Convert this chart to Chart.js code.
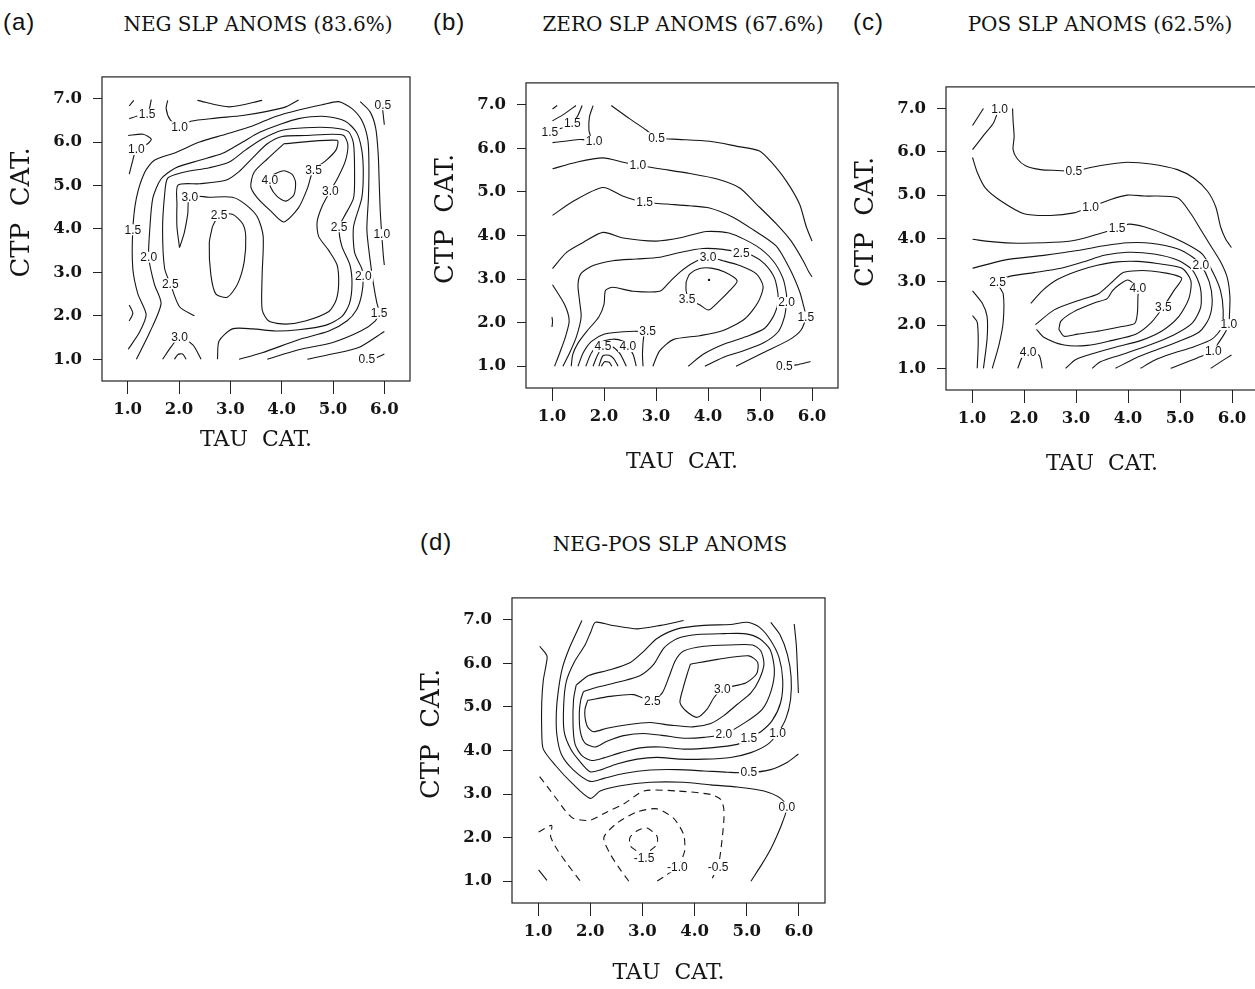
<!DOCTYPE html>
<html>
<head>
<meta charset="utf-8">
<title>SLP anomaly composites</title>
<script src="https://cdn.jsdelivr.net/npm/chart.js@4.4.1/dist/chart.umd.min.js"></script>
<style>
  html, body { margin: 0; padding: 0; background: #fff; }
  body { position: relative; width: 1255px; height: 989px; overflow: hidden; }
  canvas { position: absolute; }
  .tag { position: absolute; font-family: "Liberation Sans", Arial, sans-serif; font-size: 24px; line-height: 1; color: #111; letter-spacing: 1px; transform: translateY(-50%); }
  .ttl { position: absolute; font-family: "DejaVu Serif", serif; font-size: 20px; line-height: 1; color: #111; white-space: pre; transform: translate(-50%, -50%); }
</style>
</head>
<body>
<div class="tag" style="left:3px;top:22px">(a)</div>
<div class="ttl" style="left:258px;top:24px">NEG SLP ANOMS (83.6%)</div>
<div class="tag" style="left:433px;top:22px">(b)</div>
<div class="ttl" style="left:683px;top:24px">ZERO SLP ANOMS (67.6%)</div>
<div class="tag" style="left:853px;top:22px">(c)</div>
<div class="ttl" style="left:1100px;top:24px">POS SLP ANOMS (62.5%)</div>
<div class="tag" style="left:420px;top:542px">(d)</div>
<div class="ttl" style="left:670px;top:544px">NEG-POS SLP ANOMS</div>

<canvas id="chart-neg"></canvas>
<canvas id="chart-zero"></canvas>
<canvas id="chart-pos"></canvas>
<canvas id="chart-diff"></canvas>

<script>
// axis categories
const tauTicks = [1, 2, 3, 4, 5, 6];
const ctpTicks = [1, 2, 3, 4, 5, 6, 7];

// (a) NEG SLP composite: contour lines as [tau, ctp] points
const negLines = [
  { level: 2.0, pts: [[1.03,6.83],[1.12,6.96]] },
  { level: 1.5, pts: [[1.03,6.54],[1.23,6.61],[1.38,6.64],[1.43,6.80],[1.46,6.98]] },
  { level: 0.5, pts: [[2.36,6.96],[2.98,6.81],[3.62,6.96]] },
  { level: 1.0, pts: [[1.78,6.96],[1.75,6.77],[1.83,6.51],[2.01,6.35],[2.23,6.48],[2.72,6.55],[3.24,6.61],[3.69,6.70],[4.08,6.81],[4.33,6.97]] },
  { level: 1.0, pts: [[1.01,6.15],[1.30,6.18],[1.46,6.07],[1.39,5.96],[1.17,5.83],[1.10,5.58],[1.03,5.26]] },
  { level: 1.5, pts: [[1.01,1.23],[1.23,1.62],[1.36,2.03],[1.20,2.50],[1.10,3.09],[1.10,3.98],[1.17,4.71],[1.33,5.30],[1.52,5.58],[1.94,5.76],[2.40,6.00],[2.91,6.18],[3.43,6.37],[3.88,6.59],[4.33,6.74],[4.79,6.86],[5.11,6.93],[5.37,6.77],[5.57,6.48],[5.68,6.04],[5.70,5.45],[5.69,4.71],[5.66,3.98],[5.72,3.31],[5.79,2.72],[5.85,2.32],[5.90,2.06],[5.82,1.88],[5.56,1.66],[4.98,1.38],[4.33,1.22],[3.72,1.0]] },
  { level: 2.0, pts: [[1.17,1.0],[1.43,1.62],[1.65,2.28],[1.52,2.73],[1.41,3.35],[1.43,3.98],[1.49,4.71],[1.65,5.15],[1.94,5.41],[2.40,5.58],[2.85,5.74],[3.24,6.00],[3.56,6.22],[3.95,6.40],[4.33,6.54],[4.85,6.59],[5.24,6.48],[5.46,6.22],[5.56,5.82],[5.59,5.30],[5.56,4.71],[5.40,4.05],[5.42,3.46],[5.56,3.09],[5.59,2.91],[5.56,2.50],[5.46,2.14],[5.27,1.88],[4.92,1.65],[4.33,1.45],[3.62,1.15],[3.17,1.0]] },
  { level: 2.5, pts: [[2.30,2.00],[2.01,2.21],[1.83,2.74],[1.72,3.09],[1.68,3.98],[1.72,4.79],[1.78,5.17],[2.07,5.30],[2.59,5.41],[2.98,5.54],[3.30,5.82],[3.62,6.07],[4.01,6.27],[4.46,6.33],[4.98,6.33],[5.30,6.24],[5.40,5.96],[5.42,5.30],[5.40,4.71],[5.21,4.27],[5.12,4.05],[5.17,3.61],[5.33,3.17],[5.37,2.73],[5.32,2.28],[5.17,1.98],[4.85,1.78],[4.33,1.68],[3.88,1.65],[3.43,1.70],[3.04,1.70],[2.78,1.42],[2.75,1.0]] },
  { level: 3.0, pts: [[2.01,3.57],[1.96,4.05],[1.96,4.57],[1.98,5.01],[2.40,5.04],[2.91,5.12],[3.17,5.32],[3.43,5.63],[3.72,5.96],[4.01,6.13],[4.46,6.15],[4.98,6.18],[5.21,6.15],[5.29,5.93],[5.24,5.56],[5.10,5.19],[4.95,4.88],[4.79,4.53],[4.69,4.16],[4.72,3.83],[4.92,3.50],[5.08,3.17],[5.11,2.73],[5.06,2.36],[4.92,2.10],[4.46,1.88],[4.08,1.81],[3.75,1.88],[3.62,2.14],[3.62,2.95],[3.64,3.83],[3.53,4.27],[3.30,4.56],[3.04,4.73],[2.59,4.73],[2.21,4.74],[2.17,4.34],[2.10,3.90],[2.01,3.57]] },
  { level: 3.5, pts: [[4.04,5.96],[5.08,6.04],[5.06,5.82],[4.85,5.56],[4.62,5.36],[4.50,4.93],[4.33,4.49],[4.04,4.16],[3.78,4.42],[3.53,4.71],[3.40,4.97],[3.46,5.30],[3.72,5.61],[4.04,5.96]] },
  { level: 4.0, pts: [[3.85,5.26],[4.04,5.34],[4.20,5.26],[4.27,5.08],[4.24,4.79],[4.08,4.64],[3.91,4.75],[3.78,4.97],[3.77,5.13],[3.85,5.26]] },
  { level: 2.5, pts: [[2.65,4.05],[2.78,4.31],[3.04,4.34],[3.24,4.12],[3.30,3.83],[3.27,3.24],[3.14,2.73],[2.94,2.43],[2.72,2.50],[2.62,2.95],[2.59,3.68],[2.65,4.05]] },
  { level: 3.0, pts: [[1.68,1.0],[1.85,1.29],[2.01,1.51],[2.27,1.33],[2.43,1.0]] },
  { level: 3.5, pts: [[1.91,1.0],[1.98,1.11],[2.07,1.12],[2.14,1.0]] },
  { level: 1.0, pts: [[5.53,6.93],[5.72,6.70],[5.83,6.33],[5.88,5.74],[5.90,5.08],[5.92,4.42],[5.95,3.87],[5.98,3.39],[6.0,3.17]] },
  { level: 0.5, pts: [[5.96,6.86],[5.97,6.72],[6.0,6.40]] },
  { level: 1.0, pts: [[4.50,1.0],[4.98,1.12],[5.50,1.27],[6.0,1.64]] },
  { level: 0.5, pts: [[5.66,1.0],[5.83,1.03],[6.0,1.12]] },
  { level: 1.0, pts: [[1.03,2.25],[1.10,2.06],[1.03,1.88]] }
];
const negLabels = [
  [1.38,6.64,'1.5'], [2.01,6.35,'1.0'], [1.17,5.83,'1.0'], [1.10,3.98,'1.5'], [5.90,2.06,'1.5'],
  [1.41,3.35,'2.0'], [5.59,2.91,'2.0'], [1.83,2.74,'2.5'], [5.12,4.05,'2.5'], [2.21,4.74,'3.0'],
  [4.95,4.88,'3.0'], [4.62,5.36,'3.5'], [3.77,5.13,'4.0'], [2.78,4.31,'2.5'], [2.01,1.51,'3.0'],
  [5.95,3.87,'1.0'], [5.97,6.86,'0.5'], [5.66,1.0,'0.5']
];

// (b) ZERO SLP composite
const zeroLines = [
  { level: 2.0, pts: [[1.01,6.90],[1.10,6.98]] },
  { level: 2.0, pts: [[1.01,6.63],[1.24,6.79],[1.46,6.98]] },
  { level: 1.5, pts: [[1.01,6.39],[1.18,6.46],[1.39,6.57],[1.50,6.76],[1.58,6.98]] },
  { level: 1.0, pts: [[1.79,6.98],[1.72,6.72],[1.71,6.42],[1.74,6.21],[1.53,6.20],[1.01,6.13]] },
  { level: 0.5, pts: [[2.14,6.98],[2.49,6.68],[2.81,6.42],[3.01,6.24],[3.33,6.21],[4.03,6.16],[4.54,6.05],[4.99,5.94],[5.22,5.68],[5.51,5.24],[5.76,4.72],[5.89,4.20],[6.0,3.87]] },
  { level: 1.0, pts: [[1.01,5.53],[1.47,5.68],[1.98,5.78],[2.37,5.68],[2.65,5.61],[3.13,5.52],[3.65,5.42],[4.16,5.30],[4.61,5.09],[4.93,4.72],[5.31,4.27],[5.60,3.87],[5.83,3.42],[5.94,3.16],[6.0,3.05]] },
  { level: 1.5, pts: [[1.01,4.46],[1.40,4.78],[1.98,5.10],[2.37,4.90],[2.78,4.76],[3.20,4.72],[3.65,4.68],[4.03,4.63],[4.48,4.42],[4.87,4.13],[5.31,3.76],[5.57,3.24],[5.76,2.72],[5.83,2.42],[5.88,2.13],[5.79,1.83],[5.57,1.61],[5.06,1.31],[4.54,1.0]] },
  { level: 2.0, pts: [[1.01,3.24],[1.28,3.61],[1.60,3.84],[1.98,4.07],[2.37,3.94],[3.01,3.87],[3.52,3.96],[3.97,4.09],[4.42,4.05],[4.93,3.76],[5.25,3.42],[5.44,3.02],[5.51,2.64],[5.51,2.46],[5.47,2.13],[5.35,1.79],[5.06,1.53],[4.67,1.35],[4.29,1.20],[3.94,1.0]] },
  { level: 2.5, pts: [[3.62,1.0],[3.90,1.27],[4.29,1.50],[4.74,1.68],[5.09,1.87],[5.28,2.20],[5.35,2.57],[5.28,3.02],[5.09,3.35],[4.87,3.53],[4.64,3.60],[4.29,3.68],[3.90,3.70],[3.46,3.61],[3.07,3.50],[2.62,3.46],[2.17,3.42],[1.79,3.31],[1.56,3.13],[1.50,2.87],[1.53,2.50],[1.56,2.13],[1.47,1.68],[1.34,1.31],[1.21,1.0]] },
  { level: 3.0, pts: [[2.94,1.0],[3.07,1.35],[3.33,1.61],[3.84,1.70],[4.29,1.82],[4.71,2.09],[4.96,2.46],[5.06,2.83],[4.93,3.12],[4.61,3.31],[4.29,3.42],[4.00,3.50],[3.71,3.37],[3.46,3.16],[3.26,2.93],[3.07,2.72],[2.56,2.72],[2.17,2.81],[2.03,2.74],[2.00,2.42],[1.90,2.13],[1.69,1.83],[1.50,1.53],[1.40,1.27],[1.37,1.0]] },
  { level: 3.5, pts: [[3.58,2.94],[3.65,3.12],[3.84,3.24],[4.06,3.25],[4.32,3.16],[4.56,2.96],[4.42,2.74],[4.22,2.50],[4.01,2.29],[3.84,2.41],[3.65,2.53],[3.58,2.72],[3.58,2.94]] },
  { level: 3.5, pts: [[1.50,1.0],[1.60,1.31],[1.76,1.57],[2.01,1.74],[2.37,1.79],[2.65,1.80],[2.76,1.77],[2.75,1.53],[2.74,1.27],[2.75,1.0]] },
  { level: 4.0, pts: [[1.65,1.0],[1.76,1.31],[1.95,1.55],[2.17,1.62],[2.37,1.57],[2.46,1.45],[2.56,1.27],[2.62,1.0]] },
  { level: 4.5, pts: [[1.79,1.0],[1.87,1.24],[1.98,1.45],[2.14,1.46],[2.30,1.30],[2.43,1.0]] },
  { level: 5.0, pts: [[1.90,1.0],[1.98,1.24],[2.10,1.25],[2.19,1.17],[2.27,1.0]] },
  { level: 5.5, pts: [[1.95,1.0],[2.01,1.10],[2.10,1.09],[2.15,1.0]] },
  { level: 2.5, pts: [[1.01,2.87],[1.24,2.42],[1.33,2.05],[1.26,1.68],[1.15,1.31],[1.05,1.0]] },
  { level: 2.0, pts: [[1.0,2.13],[1.01,2.02],[1.0,1.90]] },
  { level: 0.5, pts: [[5.47,1.0],[5.70,1.03],[5.97,1.11]] }
];
const zeroLabels = [
  [0.96,6.36,'1.5'], [1.39,6.57,'1.5'], [1.81,6.16,'1.0'], [3.01,6.24,'0.5'], [2.65,5.61,'1.0'],
  [2.78,4.76,'1.5'], [5.88,2.13,'1.5'], [5.51,2.46,'2.0'], [4.64,3.60,'2.5'], [4.00,3.50,'3.0'],
  [3.60,2.53,'3.5'], [2.84,1.81,'3.5'], [2.46,1.45,'4.0'], [1.98,1.45,'4.5'], [5.47,1.0,'0.5']
];
const zeroDots = [[4.02, 2.98]];

// (c) POS SLP composite
const posLines = [
  { level: 1.5, pts: [[1.01,6.61],[1.22,7.0]] },
  { level: 1.0, pts: [[1.01,6.05],[1.23,6.39],[1.41,6.66],[1.50,6.94]] },
  { level: 0.5, pts: [[1.78,7.0],[1.79,6.72],[1.81,6.35],[1.79,6.05],[1.87,5.84],[2.03,5.68],[2.32,5.59],[2.64,5.57],[2.96,5.55],[3.28,5.64],[3.67,5.72],[3.99,5.76],[4.44,5.72],[4.95,5.59],[5.27,5.39],[5.53,5.09],[5.69,4.72],[5.78,4.27],[5.88,3.98],[5.99,3.79]] },
  { level: 1.0, pts: [[1.01,5.87],[1.10,5.53],[1.26,5.16],[1.55,4.87],[2.00,4.57],[2.51,4.53],[2.96,4.59],[3.28,4.73],[3.67,4.90],[3.99,5.00],[4.31,4.98],[4.95,4.94],[5.21,4.57],[5.40,4.20],[5.59,3.83],[5.78,3.46],[5.91,3.09],[5.96,2.64],[5.95,2.20],[5.94,2.01],[5.85,1.79],[5.73,1.57],[5.64,1.40],[5.33,1.24],[4.82,1.0]] },
  { level: 1.5, pts: [[1.01,3.98],[1.42,3.92],[1.87,3.89],[2.38,3.90],[2.90,3.94],[3.28,4.05],[3.67,4.19],[3.79,4.24],[4.02,4.33],[4.31,4.27],[4.69,4.11],[5.05,3.92],[5.43,3.64],[5.64,3.20],[5.78,2.79],[5.83,2.35],[5.80,1.94],[5.62,1.68],[5.27,1.50],[4.82,1.33],[4.50,1.18],[4.24,1.0]] },
  { level: 2.0, pts: [[1.01,3.31],[1.62,3.50],[2.38,3.61],[3.03,3.72],[3.54,3.83],[3.99,3.90],[4.44,3.89],[4.95,3.76],[5.24,3.57],[5.40,3.39],[5.56,3.01],[5.62,2.57],[5.56,2.16],[5.37,1.84],[4.95,1.61],[4.53,1.42],[4.15,1.24],[3.76,1.0]] },
  { level: 2.5, pts: [[1.39,1.0],[1.52,1.55],[1.60,2.07],[1.60,2.72],[1.49,2.99],[1.74,3.13],[2.19,3.21],[2.71,3.31],[3.15,3.46],[3.54,3.61],[3.99,3.68],[4.50,3.64],[4.95,3.50],[5.24,3.27],[5.39,2.87],[5.40,2.42],[5.24,2.05],[4.88,1.77],[4.44,1.55],[3.86,1.31],[3.47,1.15],[3.31,1.0]] },
  { level: 3.0, pts: [[2.80,1.0],[2.99,1.20],[3.35,1.35],[3.79,1.50],[4.24,1.64],[4.66,1.87],[4.98,2.20],[5.17,2.61],[5.21,3.02],[5.04,3.31],[4.56,3.42],[4.18,3.47],[3.79,3.46],[3.41,3.38],[3.03,3.25],[2.64,3.05],[2.35,2.79],[2.13,2.50]] },
  { level: 3.5, pts: [[2.22,2.01],[2.58,2.35],[3.03,2.56],[3.44,2.73],[3.70,3.00],[3.92,3.22],[4.44,3.25],[5.03,3.09],[4.88,2.79],[4.68,2.42],[4.44,2.05],[4.15,1.79],[3.67,1.64],[3.22,1.53],[2.77,1.54],[2.38,1.72],[2.24,1.90]] },
  { level: 4.0, pts: [[2.67,1.90],[2.71,2.09],[2.96,2.31],[3.35,2.51],[3.60,2.61],[3.70,2.79],[3.83,2.93],[4.00,3.04],[4.19,2.85],[4.19,2.64],[4.18,2.27],[4.13,2.04],[3.86,1.96],[3.47,1.87],[3.03,1.79],[2.77,1.74],[2.67,1.90]] },
  { level: 2.0, pts: [[1.01,2.22],[1.10,2.07],[1.12,1.61],[1.10,1.0]] },
  { level: 2.5, pts: [[1.01,2.79],[1.20,2.50],[1.29,2.20],[1.29,1.68],[1.22,1.0]] },
  { level: 4.0, pts: [[1.88,1.0],[1.97,1.27],[2.08,1.37],[2.29,1.30],[2.35,1.0]] },
  { level: 0.5, pts: [[5.59,1.0],[5.78,1.15],[5.99,1.31]] }
];
const posLabels = [
  [1.53,6.98,'1.0'], [2.96,5.55,'0.5'], [3.28,4.73,'1.0'], [5.94,2.01,'1.0'], [5.64,1.40,'1.0'],
  [3.79,4.24,'1.5'], [5.40,3.39,'2.0'], [1.49,2.99,'2.5'], [4.68,2.42,'3.5'], [4.19,2.85,'4.0'],
  [2.08,1.37,'4.0']
];

// (d) NEG minus POS difference (negative levels dashed)
const diffLines = [
  { level: 3.0, pts: [[3.92,5.98],[4.44,6.09],[5.04,6.17],[5.21,6.02],[5.19,5.76],[4.98,5.55],[4.53,5.41],[4.37,5.21],[4.24,4.95],[4.05,4.76],[3.83,4.91],[3.72,5.10],[3.78,5.43],[3.86,5.76],[3.92,5.98]] },
  { level: 2.5, pts: [[1.95,5.15],[2.38,5.24],[2.83,5.28],[3.19,5.13],[3.38,5.32],[3.51,5.69],[3.63,6.06],[3.79,6.28],[4.18,6.39],[4.69,6.42],[5.11,6.42],[5.27,6.28],[5.33,5.98],[5.24,5.63],[5.08,5.32],[4.82,5.06],[4.56,4.80],[4.31,4.62],[3.96,4.54],[3.54,4.58],[3.15,4.64],[2.71,4.59],[2.32,4.51],[2.06,4.43],[1.95,4.54],[1.90,4.76],[1.90,4.95],[1.95,5.15]] },
  { level: 2.0, pts: [[1.87,5.35],[2.13,5.45],[2.58,5.58],[2.96,5.72],[3.22,5.98],[3.41,6.35],[3.67,6.57],[4.05,6.66],[4.56,6.68],[4.95,6.68],[5.24,6.57],[5.45,6.31],[5.53,5.85],[5.47,5.38],[5.30,4.95],[4.98,4.65],[4.56,4.37],[4.18,4.30],[3.79,4.28],[3.41,4.34],[3.03,4.39],[2.64,4.34],[2.32,4.21],[2.10,4.08],[1.90,4.17],[1.81,4.43],[1.79,4.87],[1.82,5.17],[1.87,5.35]] },
  { level: 1.5, pts: [[1.73,5.50],[1.97,5.72],[2.38,5.85],[2.77,6.02],[3.03,6.28],[3.28,6.57],[3.67,6.79],[4.18,6.87],[4.69,6.89],[5.01,6.94],[5.24,6.83],[5.45,6.54],[5.62,6.13],[5.69,5.61],[5.65,5.10],[5.49,4.69],[5.27,4.43],[5.04,4.28],[4.82,4.14],[4.31,4.06],[3.79,4.03],[3.35,4.08],[2.96,4.06],[2.58,3.95],[2.26,3.83],[2.03,3.77],[1.84,3.88],[1.71,4.14],[1.67,4.58],[1.68,5.17],[1.73,5.50]] },
  { level: 1.0, pts: [[5.46,6.94],[5.64,6.65],[5.78,6.20],[5.85,5.69],[5.84,5.17],[5.75,4.73],[5.59,4.39],[5.40,4.14],[5.08,3.95],[4.69,3.84],[4.18,3.80],[3.73,3.80],[3.28,3.84],[2.90,3.80],[2.51,3.69],[2.19,3.55],[2.00,3.51],[1.82,3.72],[1.63,4.02],[1.50,4.43],[1.49,5.02],[1.54,5.58],[1.69,6.02],[1.90,6.42],[2.01,6.72],[2.10,6.94],[2.38,6.88],[2.90,6.79],[3.35,6.87],[3.79,6.98]] },
  { level: 0.5, pts: [[1.84,6.98],[1.74,6.72],[1.60,6.35],[1.47,5.91],[1.39,5.39],[1.35,4.87],[1.36,4.36],[1.45,3.90],[1.68,3.55],[2.00,3.29],[2.26,3.36],[2.64,3.47],[3.15,3.55],[3.67,3.56],[4.18,3.53],[4.63,3.50],[5.04,3.49],[5.46,3.56],[5.78,3.73],[5.99,3.92]] },
  { level: 0.5, pts: [[5.91,6.90],[5.95,6.42],[5.97,5.91],[5.99,5.32]] },
  { level: 0.0, pts: [[1.03,6.39],[1.17,6.17],[1.15,5.94],[1.10,5.61],[1.07,5.10],[1.07,4.43],[1.10,4.03],[1.33,3.66],[1.65,3.25],[2.00,2.90],[2.19,3.07],[2.58,3.19],[3.15,3.27],[3.79,3.27],[4.31,3.21],[4.82,3.16],[5.33,3.07],[5.65,2.90],[5.77,2.70],[5.69,2.37],[5.59,2.07],[5.46,1.74],[5.30,1.41],[5.08,1.0]] },
  { level: -0.5, pts: [[1.03,3.40],[1.17,3.18],[1.36,2.88],[1.52,2.62],[1.68,2.44],[2.00,2.40],[2.32,2.59],[2.64,2.77],[3.03,3.07],[3.67,3.07],[4.31,2.99],[4.50,2.88],[4.56,2.66],[4.56,2.37],[4.51,1.78],[4.45,1.33],[4.34,1.07]] },
  { level: -1.0, pts: [[2.74,1.0],[2.58,1.26],[2.38,1.63],[2.26,2.00],[2.51,2.33],[2.90,2.59],[3.28,2.66],[3.60,2.44],[3.79,2.07],[3.81,1.70],[3.73,1.44],[3.67,1.33],[3.47,1.15],[3.28,1.0]] },
  { level: -1.5, pts: [[2.88,1.70],[2.77,1.81],[2.76,2.00],[2.90,2.16],[3.09,2.22],[3.28,2.03],[3.28,1.85],[3.15,1.70]] },
  { level: -0.5, pts: [[1.01,2.13],[1.26,2.28],[1.24,2.03],[1.36,1.74],[1.55,1.41],[1.81,1.0]] },
  { level: 0.0, pts: [[1.01,1.26],[1.17,1.02]] }
];
const diffLabels = [
  [4.53,5.41,'3.0'], [3.19,5.13,'2.5'], [4.56,4.37,'2.0'], [5.04,4.28,'1.5'], [5.59,4.39,'1.0'],
  [5.04,3.49,'0.5'], [5.77,2.70,'0.0'], [4.45,1.33,'-0.5'], [3.67,1.33,'-1.0'], [3.03,1.52,'-1.5']
];

document.addEventListener('DOMContentLoaded', () => {

  const INK = '#151515';
  const SERIF = '"DejaVu Serif", serif';
  const Y_AXIS_W = 102;

  // box round the plotting area
  const framePlugin = {
    id: 'frame',
    afterDraw(chart) {
      const { ctx, chartArea: a } = chart;
      ctx.save();
      ctx.strokeStyle = '#222';
      ctx.lineWidth = 1.2;
      ctx.strokeRect(a.left, a.top, a.right - a.left, a.bottom - a.top);
      ctx.restore();
    }
  };

  // inline contour labels, with a white patch that breaks the line
  function labelPlugin(labels) {
    return {
      id: 'contourLabels',
      afterDatasetsDraw(chart) {
        const { ctx, scales: { x, y } } = chart;
        ctx.save();
        ctx.font = '12px "Liberation Sans", Arial, sans-serif';
        ctx.textAlign = 'center';
        ctx.textBaseline = 'middle';
        labels.forEach(([tau, ctp, text]) => {
          const px = x.getPixelForValue(tau);
          const py = y.getPixelForValue(ctp);
          const w = ctx.measureText(text).width;
          ctx.fillStyle = '#fff';
          ctx.fillRect(px - w / 2 - 1.5, py - 5.5, w + 3, 11);
          ctx.fillStyle = INK;
          ctx.fillText(text, px, py + 0.5);
        });
        ctx.restore();
      }
    };
  }

  function makePanel(id, box, lines, labels, dots) {
    const canvas = document.getElementById(id);
    const w = Y_AXIS_W + box.plotW + 6;
    const h = 10 + box.plotH + box.xAxisH;
    canvas.width = w;
    canvas.height = h;
    canvas.style.width = w + 'px';
    canvas.style.height = h + 'px';
    canvas.style.left = box.left + 'px';
    canvas.style.top = box.top + 'px';

    const datasets = lines.map(line => ({
      data: line.pts.map(p => ({ x: p[0], y: p[1] })),
      showLine: true,
      pointRadius: 0,
      borderColor: INK,
      borderWidth: 1.1,
      borderDash: line.level < 0 ? [7, 5] : [],
      tension: 0.25,
      fill: false
    }));
    if (dots.length) {
      datasets.push({
        data: dots.map(p => ({ x: p[0], y: p[1] })),
        showLine: false,
        pointRadius: 1.2,
        pointBackgroundColor: INK,
        pointBorderWidth: 0
      });
    }

    const tickFont = { family: SERIF, size: 16.5, weight: 'bold' };

    return new Chart(canvas, {
      type: 'scatter',
      data: { datasets },
      options: {
        responsive: false,
        maintainAspectRatio: false,
        devicePixelRatio: 1,
        animation: false,
        events: [],
        layout: { padding: { top: 10, right: 6, left: 0, bottom: 0 } },
        plugins: { legend: { display: false }, tooltip: { enabled: false } },
        scales: {
          x: {
            type: 'linear', min: 0.5, max: 6.5,
            afterBuildTicks: s => { s.ticks = tauTicks.map(v => ({ value: v })); },
            afterFit: s => { s.height = box.xAxisH; },
            border: { display: false },
            grid: { drawOnChartArea: false, drawTicks: true, tickLength: 13, color: '#222', lineWidth: 1 },
            ticks: { color: INK, font: tickFont, padding: 6, maxRotation: 0, autoSkip: false,
                     callback: v => Number(v).toFixed(1) },
            title: { display: true, text: 'TAU  CAT.', color: INK,
                     font: { family: SERIF, size: 22 },
                     padding: { top: 0, bottom: box.xTitlePad } }
          },
          y: {
            type: 'linear', min: 0.5, max: 7.5,
            afterBuildTicks: s => { s.ticks = ctpTicks.map(v => ({ value: v })); },
            afterFit: s => { s.width = Y_AXIS_W; },
            border: { display: false },
            grid: { drawOnChartArea: false, drawTicks: true, tickLength: 9, color: '#222', lineWidth: 1 },
            ticks: { color: INK, font: tickFont, padding: 11, autoSkip: false,
                     callback: v => Number(v).toFixed(1) },
            // leading blanks lift the rotated title a little above the plot centre, as in the print
            title: { display: true, text: '    CTP  CAT.', color: INK,
                     font: { family: SERIF, size: 26 },
                     padding: { top: 7, bottom: 0 } }
          }
        }
      },
      plugins: [framePlugin, labelPlugin(labels)]
    });
  }

  makePanel('chart-neg',  { left: 0,   top: 56,  plotW: 308, plotH: 315, xAxisH: 72, xTitlePad: 0 }, negLines,  negLabels,  []);
  makePanel('chart-zero', { left: 424, top: 62,  plotW: 312, plotH: 316, xAxisH: 88, xTitlePad: 1 }, zeroLines, zeroLabels, zeroDots);
  makePanel('chart-pos',  { left: 844, top: 66,  plotW: 312, plotH: 314, xAxisH: 88, xTitlePad: 1 }, posLines,  posLabels,  []);
  makePanel('chart-diff', { left: 410, top: 577, plotW: 313, plotH: 316, xAxisH: 88, xTitlePad: 5 }, diffLines, diffLabels, []);
});
</script>
</body>
</html>
